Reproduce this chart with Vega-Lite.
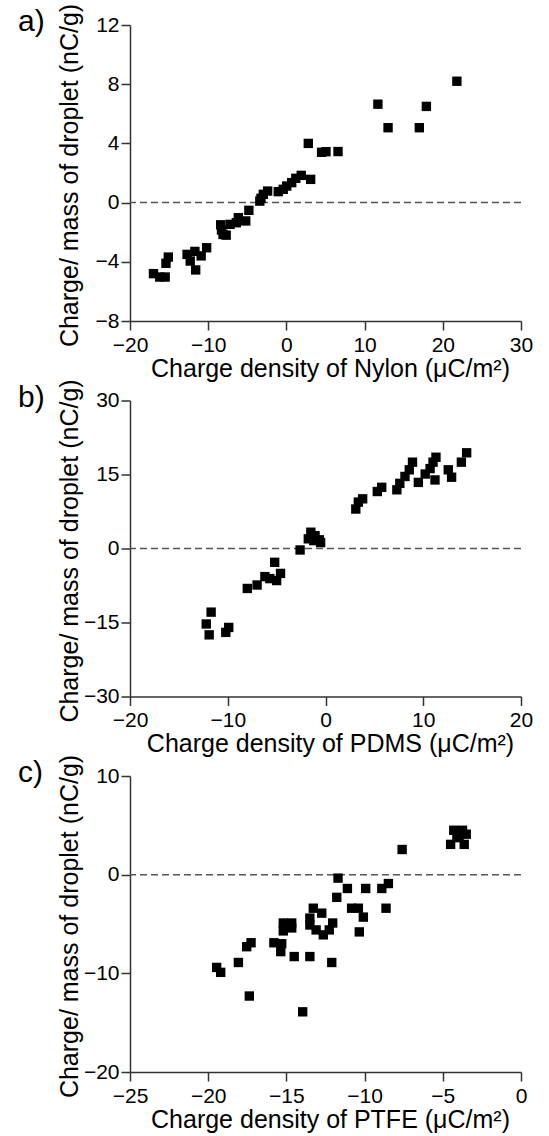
{
  "$schema": "https://vega.github.io/schema/vega-lite/v6.json",
  "background": "white",
  "padding": {"left": 18, "top": 3, "right": 5, "bottom": 2},
  "spacing": 79.5,
  "bounds": "flush",
  "datasets": {
    "nylon": [
      {"x": -17.0, "y": -4.8}, {"x": -16.2, "y": -5.03}, {"x": -15.5, "y": -5.03}, {"x": -15.4, "y": -4.1}, {"x": -15.1, "y": -3.68},
      {"x": -12.7, "y": -3.5}, {"x": -12.3, "y": -3.95}, {"x": -11.7, "y": -3.3}, {"x": -11.6, "y": -4.55}, {"x": -10.9, "y": -3.6}, {"x": -10.2, "y": -3.05},
      {"x": -8.4, "y": -1.5}, {"x": -8.3, "y": -1.85}, {"x": -8.1, "y": -2.15}, {"x": -7.7, "y": -2.2}, {"x": -7.2, "y": -1.47}, {"x": -6.4, "y": -1.36}, {"x": -6.15, "y": -1.02}, {"x": -5.2, "y": -1.24}, {"x": -4.8, "y": -0.52},
      {"x": -3.4, "y": 0.1}, {"x": -3.25, "y": 0.29}, {"x": -2.95, "y": 0.56}, {"x": -2.4, "y": 0.78}, {"x": -1.04, "y": 0.74}, {"x": -0.4, "y": 0.9}, {"x": 0.04, "y": 1.12}, {"x": 0.68, "y": 1.35}, {"x": 1.2, "y": 1.64}, {"x": 1.9, "y": 1.84}, {"x": 3.1, "y": 1.57},
      {"x": 2.8, "y": 4.0}, {"x": 4.5, "y": 3.4}, {"x": 5.06, "y": 3.44}, {"x": 6.6, "y": 3.45},
      {"x": 11.7, "y": 6.65}, {"x": 13.0, "y": 5.06}, {"x": 17.0, "y": 5.06}, {"x": 17.9, "y": 6.5}, {"x": 21.8, "y": 8.2}
    ],
    "pdms": [
      {"x": -12.2, "y": -15.3}, {"x": -11.9, "y": -17.5}, {"x": -11.7, "y": -12.9}, {"x": -10.2, "y": -17.0}, {"x": -9.9, "y": -16.0},
      {"x": -8.0, "y": -8.1}, {"x": -7.0, "y": -7.4}, {"x": -6.2, "y": -5.7}, {"x": -5.7, "y": -6.1}, {"x": -5.0, "y": -6.5}, {"x": -5.2, "y": -2.8}, {"x": -4.6, "y": -5.05},
      {"x": -2.6, "y": -0.3}, {"x": -1.76, "y": 1.96}, {"x": -1.5, "y": 3.3}, {"x": -1.2, "y": 1.6}, {"x": -1.07, "y": 2.6}, {"x": -0.63, "y": 1.76}, {"x": -0.5, "y": 1.2},
      {"x": 3.1, "y": 8.0}, {"x": 3.36, "y": 9.4}, {"x": 3.8, "y": 10.07}, {"x": 5.3, "y": 11.55}, {"x": 5.75, "y": 12.4}, {"x": 7.3, "y": 11.9}, {"x": 7.6, "y": 13.2}, {"x": 8.13, "y": 14.6}, {"x": 8.57, "y": 15.95}, {"x": 8.9, "y": 17.5},
      {"x": 9.5, "y": 13.4}, {"x": 10.2, "y": 15.1}, {"x": 10.7, "y": 16.2}, {"x": 11.0, "y": 17.5}, {"x": 11.3, "y": 18.5}, {"x": 11.2, "y": 13.9}, {"x": 12.56, "y": 15.95}, {"x": 12.9, "y": 14.45}, {"x": 13.9, "y": 17.5}, {"x": 14.44, "y": 19.4}
    ],
    "ptfe": [
      {"x": -19.46, "y": -9.4}, {"x": -19.2, "y": -9.9}, {"x": -18.07, "y": -8.9}, {"x": -17.54, "y": -7.3}, {"x": -17.26, "y": -6.9}, {"x": -17.37, "y": -12.3},
      {"x": -15.8, "y": -6.9}, {"x": -15.3, "y": -7.0}, {"x": -15.36, "y": -7.8}, {"x": -15.2, "y": -4.9}, {"x": -14.66, "y": -4.9}, {"x": -15.2, "y": -5.7}, {"x": -14.66, "y": -5.4}, {"x": -14.5, "y": -8.3},
      {"x": -13.96, "y": -13.9}, {"x": -13.5, "y": -8.3}, {"x": -13.28, "y": -3.4}, {"x": -13.5, "y": -4.4}, {"x": -13.5, "y": -5.1}, {"x": -13.1, "y": -5.6}, {"x": -12.74, "y": -3.9}, {"x": -12.64, "y": -6.1},
      {"x": -12.04, "y": -4.9}, {"x": -12.26, "y": -5.6}, {"x": -12.1, "y": -8.9}, {"x": -11.78, "y": -2.3}, {"x": -11.7, "y": -0.35}, {"x": -11.1, "y": -1.4},
      {"x": -10.83, "y": -3.4}, {"x": -10.4, "y": -3.4}, {"x": -10.08, "y": -4.3}, {"x": -10.34, "y": -5.8}, {"x": -9.93, "y": -1.4}, {"x": -8.9, "y": -1.4}, {"x": -8.48, "y": -0.9}, {"x": -8.63, "y": -3.4},
      {"x": -7.6, "y": 2.55}, {"x": -4.5, "y": 3.07}, {"x": -4.3, "y": 4.5}, {"x": -3.74, "y": 4.5}, {"x": -3.5, "y": 4.1}, {"x": -3.96, "y": 3.75}, {"x": -3.63, "y": 3.07}, {"x": -4.1, "y": 4.0}
    ],
    "zero": [{"y": 0}]
  },
  "config": {
    "view": {"stroke": null},
    "font": "Liberation Sans",
    "axis": {
      "grid": false,
      "labelFlush": false,
      "domainColor": "#333333", "domainWidth": 1.5,
      "tickColor": "#333333", "tickWidth": 1.5, "tickSize": 9,
      "labelFont": "Liberation Sans", "labelFontSize": 21, "labelColor": "black",
      "titleFont": "Liberation Sans", "titleFontSize": 25, "titleFontWeight": "normal", "titleColor": "black"
    },
    "axisX": {"labelPadding": 4, "titleX": 200, "titleY": 55, "titleBaseline": "alphabetic"},
    "axisY": {"labelPadding": 2, "titleX": -53, "titleY": 150, "titleBaseline": "alphabetic"},
    "title": {"anchor": "start", "frame": "group", "fontSize": 30, "fontWeight": "normal", "color": "black", "dx": -112, "baseline": "alphabetic", "offset": -34, "font": "Liberation Sans"}
  },
  "vconcat": [
    {
      "width": 391, "height": 296,
      "title": "a)",
      "layer": [
        {
          "data": {"name": "zero"},
          "mark": {"type": "rule", "strokeDash": [7, 4], "color": "#555555", "strokeWidth": 1.5},
          "encoding": {
            "y": {"field": "y", "type": "quantitative", "scale": {"domain": [-8, 12], "nice": false, "zero": false}, "title": "Charge/ mass of droplet (nC/g)"}
          }
        },
        {
          "data": {"name": "nylon"},
          "mark": {"type": "point", "shape": "square", "filled": true, "color": "black", "opacity": 1, "size": 88},
          "encoding": {
            "x": {"field": "x", "type": "quantitative", "scale": {"domain": [-20, 30], "nice": false, "zero": false}, "axis": {"values": [-20, -10, 0, 10, 20, 30]}, "title": "Charge density of Nylon (μC/m²)"},
            "y": {"field": "y", "type": "quantitative", "scale": {"domain": [-8, 12], "nice": false, "zero": false}, "axis": {"values": [-8, -4, 0, 4, 8, 12]}, "title": "Charge/ mass of droplet (nC/g)"}
          }
        }
      ]
    },
    {
      "width": 391, "height": 296,
      "title": "b)",
      "layer": [
        {
          "data": {"name": "zero"},
          "mark": {"type": "rule", "strokeDash": [7, 4], "color": "#555555", "strokeWidth": 1.5},
          "encoding": {
            "y": {"field": "y", "type": "quantitative", "scale": {"domain": [-30, 30], "nice": false, "zero": false}, "title": "Charge/ mass of droplet (nC/g)"}
          }
        },
        {
          "data": {"name": "pdms"},
          "mark": {"type": "point", "shape": "square", "filled": true, "color": "black", "opacity": 1, "size": 88},
          "encoding": {
            "x": {"field": "x", "type": "quantitative", "scale": {"domain": [-20, 20], "nice": false, "zero": false}, "axis": {"values": [-20, -10, 0, 10, 20]}, "title": "Charge density of PDMS (μC/m²)"},
            "y": {"field": "y", "type": "quantitative", "scale": {"domain": [-30, 30], "nice": false, "zero": false}, "axis": {"values": [-30, -15, 0, 15, 30]}, "title": "Charge/ mass of droplet (nC/g)"}
          }
        }
      ]
    },
    {
      "width": 391, "height": 296,
      "title": "c)",
      "layer": [
        {
          "data": {"name": "zero"},
          "mark": {"type": "rule", "strokeDash": [7, 4], "color": "#555555", "strokeWidth": 1.5},
          "encoding": {
            "y": {"field": "y", "type": "quantitative", "scale": {"domain": [-20, 10], "nice": false, "zero": false}, "title": "Charge/ mass of droplet (nC/g)"}
          }
        },
        {
          "data": {"name": "ptfe"},
          "mark": {"type": "point", "shape": "square", "filled": true, "color": "black", "opacity": 1, "size": 88},
          "encoding": {
            "x": {"field": "x", "type": "quantitative", "scale": {"domain": [-25, 0], "nice": false, "zero": false}, "axis": {"values": [-25, -20, -15, -10, -5, 0]}, "title": "Charge density of PTFE (μC/m²)"},
            "y": {"field": "y", "type": "quantitative", "scale": {"domain": [-20, 10], "nice": false, "zero": false}, "axis": {"values": [-20, -10, 0, 10]}, "title": "Charge/ mass of droplet (nC/g)"}
          }
        }
      ]
    }
  ]
}
